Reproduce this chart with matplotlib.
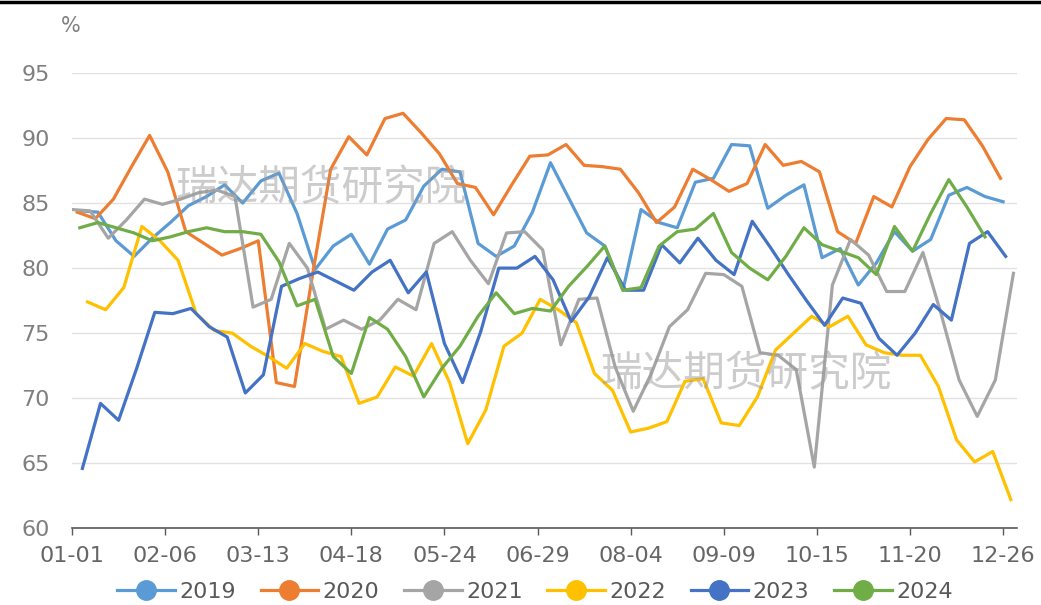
import numpy as np
import matplotlib.pyplot as plt
from matplotlib.lines import Line2D

plt.rcParams['font.family'] = ['DejaVu Sans']

# weekly readings, x = day of year (first week's day + 7 per step)
years = ['2019', '2020', '2021', '2022', '2023', '2024']
first_day = [3, 2, 0, 6, 4, 3]
colors = ['#5B9BD5', '#ED7D31', '#A5A5A5', '#FFC000', '#4472C4', '#70AD47']

v2019 = [84.4, 84.3, 82.1, 80.9, 82.3, 83.5, 84.8, 85.5, 86.4, 85.0,
         86.7, 87.3, 84.2, 79.9, 81.7, 82.6, 80.3, 83.0, 83.7, 86.3,
         87.6, 87.4, 81.9, 80.9, 81.7, 84.3, 88.1, 85.4, 82.7, 81.7,
         78.3, 84.5, 83.5, 83.1, 86.6, 86.9, 89.5, 89.4, 84.6, 85.6,
         86.4, 80.8, 81.5, 78.7, 80.4, 82.8, 81.3, 82.2, 85.6, 86.2,
         85.5, 85.1]
v2020 = [84.3, 83.8, 85.3, 87.8, 90.2, 87.4, 82.8, 81.9, 81.0, 81.5,
         82.1, 71.2, 70.9, 79.5, 87.6, 90.1, 88.7, 91.5, 91.9, 90.4,
         88.8, 86.5, 86.2, 84.1, 86.4, 88.6, 88.7, 89.5, 87.9, 87.8,
         87.6, 85.8, 83.5, 84.7, 87.6, 86.8, 85.9, 86.5, 89.5, 87.9,
         88.2, 87.4, 82.8, 81.9, 85.5, 84.7, 87.8, 89.9, 91.5, 91.4,
         89.4, 86.9]
v2021 = [84.5, 84.4, 82.3, 83.7, 85.3, 84.9, 85.3, 85.8, 86.0, 85.5,
         77.0, 77.6, 81.9, 80.0, 75.3, 76.0, 75.3, 76.0, 77.6, 76.8,
         81.9, 82.8, 80.6, 78.8, 82.7, 82.8, 81.4, 74.1, 77.6, 77.7,
         72.4, 69.0, 71.9, 75.5, 76.8, 79.6, 79.5, 78.6, 73.5, 73.3,
         72.2, 64.7, 78.7, 82.2, 81.0, 78.2, 78.2, 81.2, 76.5, 71.4,
         68.6, 71.4, 79.6]
v2022 = [77.4, 76.8, 78.5, 83.2, 82.1, 80.6, 76.5, 75.2, 75.0, 74.0,
         73.2, 72.3, 74.2, 73.6, 73.2, 69.6, 70.1, 72.4, 71.7, 74.2,
         71.2, 66.5, 69.1, 74.0, 75.0, 77.6, 76.8, 75.8, 71.9, 70.6,
         67.4, 67.7, 68.2, 71.3, 71.5, 68.1, 67.9, 70.1, 73.7, 75.0,
         76.3, 75.5, 76.3, 74.1, 73.5, 73.3, 73.3, 70.9, 66.8, 65.1,
         65.9, 62.2]
v2023 = [64.6, 69.6, 68.3, 72.3, 76.6, 76.5, 76.9, 75.5, 74.7, 70.4,
         71.8, 78.6, 79.2, 79.7, 79.0, 78.3, 79.7, 80.6, 78.1, 79.7,
         74.2, 71.2, 75.1, 80.0, 80.0, 80.9, 79.1, 75.9, 77.8, 80.8,
         78.3, 78.3, 81.8, 80.4, 82.3, 80.6, 79.5, 83.6, 81.6, 79.5,
         77.5, 75.6, 77.7, 77.3, 74.6, 73.3, 75.0, 77.2, 76.0, 81.9,
         82.8, 80.9]
v2024 = [83.1, 83.5, 83.1, 82.7, 82.1, 82.4, 82.8, 83.1, 82.8, 82.8,
         82.6, 80.5, 77.1, 77.6, 73.2, 71.9, 76.2, 75.3, 73.2, 70.1,
         72.3, 74.0, 76.3, 78.1, 76.5, 76.9, 76.7, 78.6, 80.1, 81.7,
         78.3, 78.5, 81.7, 82.8, 83.0, 84.2, 81.2, 80.0, 79.1, 80.9,
         83.1, 81.8, 81.3, 80.8, 79.5, 83.2, 81.3, 84.2, 86.8, 84.7,
         82.4]
series = [v2019, v2020, v2021, v2022, v2023, v2024]

tick_labels = ['01-01', '02-06', '03-13', '04-18', '05-24', '06-29',
               '08-04', '09-09', '10-15', '11-20', '12-26']

fig = plt.figure(figsize=(10.41, 6.05), dpi=100)
ax = fig.add_axes([0.0692, 0.1268, 0.9078, 0.7526])

for name, d0, col, vals in zip(years, first_day, colors, series):
    x = d0 + 7 * np.arange(len(vals))
    ax.plot(x, vals, color=col, lw=2.3, label=name, solid_joinstyle='round')

ax.set_xlim(0, 365.4)
ax.set_ylim(60, 95)
ax.set_xticks(36 * np.arange(len(tick_labels)))
ax.set_xticklabels(tick_labels)
ax.set_yticks(np.arange(60, 96, 5))

for s in ['left', 'right', 'top']:
    ax.spines[s].set_visible(False)
ax.spines['bottom'].set_color('#595959')
ax.spines['bottom'].set_linewidth(1.2)
ax.yaxis.grid(True, color='#e2e2e2', lw=1)
ax.set_axisbelow(True)
ax.tick_params(axis='x', direction='out', length=5, width=1, color='#595959',
               labelsize=16, labelcolor='#666666', pad=8)
ax.tick_params(axis='y', length=0, labelsize=16, labelcolor='#7f7f7f', pad=16)

fig.text(71 / 1041, 1 - 26 / 605, '%', fontsize=15, color='#7f7f7f',
         ha='center', va='center')

# watermark
for cx, cy in [(321, 189), (746, 375)]:
    fig.text(cx / 1041, 1 - cy / 605, '瑞达期货研究院', fontsize=30,
             color='#9a9a9a', alpha=0.5, ha='center', va='center',
             family=['Noto Sans CJK SC', 'DejaVu Sans'])

handles = [Line2D([], [], color=c, lw=2.3, marker='o', markersize=14) for c in colors]
leg = fig.legend(handles, years, loc='center', bbox_to_anchor=(535 / 1041, 1 - 592 / 605),
                 ncol=6, frameon=False, fontsize=16, handlelength=2.6,
                 handletextpad=0.2, columnspacing=1.1)
for t in leg.get_texts():
    t.set_color('#595959')

fig.add_artist(Line2D([0, 1], [1 - 1.5 / 605] * 2, color='black', lw=2.5,
                      transform=fig.transFigure))

fig.savefig('out.png', dpi=100)
